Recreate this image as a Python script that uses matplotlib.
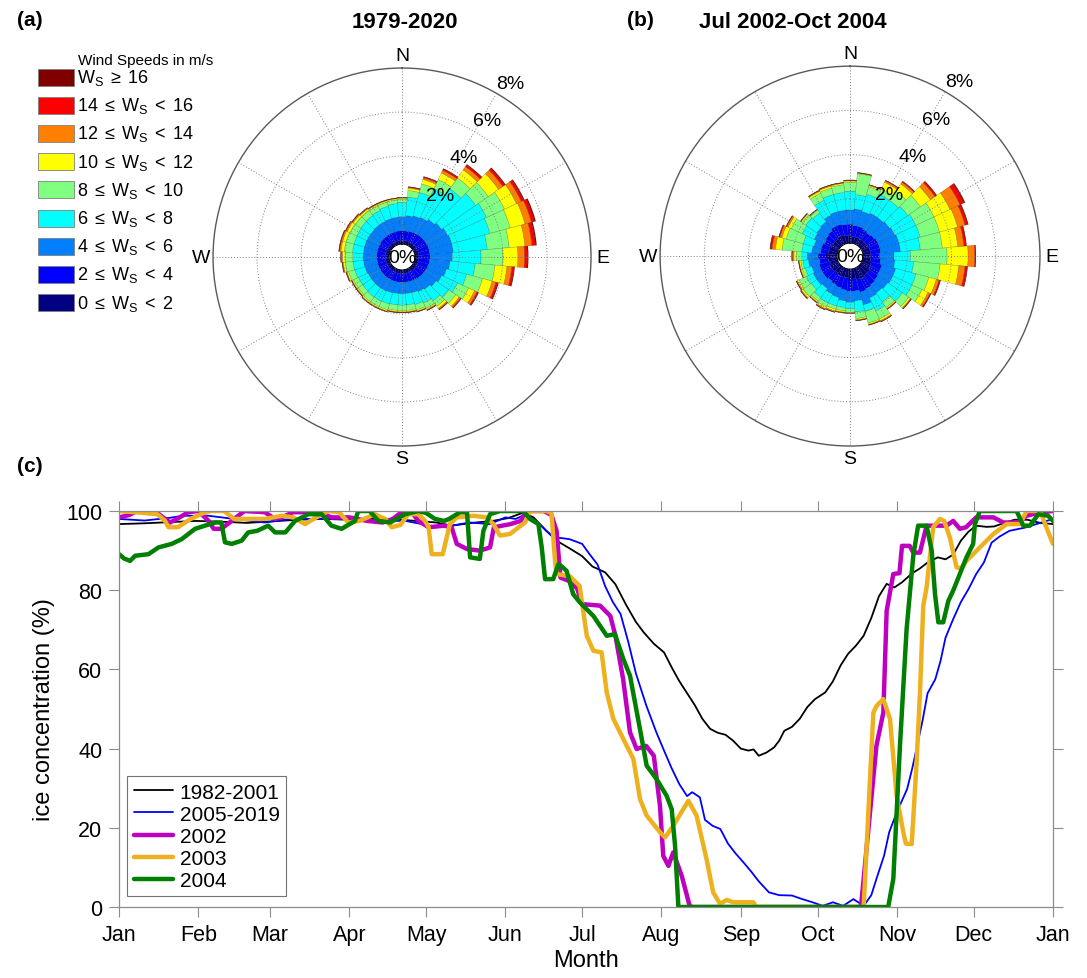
import matplotlib
matplotlib.use("Agg")
import matplotlib.pyplot as plt
import numpy as np
from matplotlib.patches import Rectangle

plt.rcParams["font.family"] = ["Liberation Sans", "DejaVu Sans"]
plt.rcParams["mathtext.fontset"] = "custom"
plt.rcParams["mathtext.rm"] = "Liberation Sans"
plt.rcParams["mathtext.it"] = "Liberation Sans:italic"

# ---------------- wind rose data (frequency in %, per 10 deg sector) ----------------
directions = np.arange(0, 360, 10)

speed_labels = [
    r"$\mathrm{W_S} \;\geq\; 16$",
    r"$14 \;\leq\; \mathrm{W_S} \;<\; 16$",
    r"$12 \;\leq\; \mathrm{W_S} \;<\; 14$",
    r"$10 \;\leq\; \mathrm{W_S} \;<\; 12$",
    r"$8 \;\leq\; \mathrm{W_S} \;<\; 10$",
    r"$6 \;\leq\; \mathrm{W_S} \;<\; 8$",
    r"$4 \;\leq\; \mathrm{W_S} \;<\; 6$",
    r"$2 \;\leq\; \mathrm{W_S} \;<\; 4$",
    r"$0 \;\leq\; \mathrm{W_S} \;<\; 2$",
]
# colours from slowest to fastest class
speed_colors = ["#000080", "#0000FF", "#0080FF", "#00FFFF", "#80FF80",
                "#FFFF00", "#FF8000", "#FF0000", "#800000"]

# 1979-2020
a_0_2 = [0.17, 0.17, 0.17, 0.18, 0.18, 0.18, 0.18, 0.18, 0.18, 0.18, 0.18, 0.18,
         0.18, 0.17, 0.17, 0.17, 0.17, 0.17, 0.17, 0.17, 0.17, 0.17, 0.17, 0.17,
         0.17, 0.17, 0.17, 0.17, 0.17, 0.17, 0.17, 0.17, 0.17, 0.17, 0.17, 0.17]
a_2_4 = [0.43, 0.43, 0.45, 0.45, 0.47, 0.48, 0.49, 0.50, 0.50, 0.50, 0.49, 0.47,
         0.45, 0.45, 0.43, 0.41, 0.40, 0.39, 0.39, 0.39, 0.39, 0.39, 0.39, 0.38,
         0.38, 0.38, 0.38, 0.38, 0.39, 0.39, 0.40, 0.41, 0.41, 0.42, 0.42, 0.43]
a_4_6 = [0.65, 0.70, 0.73, 0.77, 0.85, 0.94, 1.03, 1.07, 1.07, 1.02, 0.93, 0.85,
         0.77, 0.68, 0.60, 0.57, 0.53, 0.52, 0.52, 0.52, 0.54, 0.56, 0.56, 0.57,
         0.57, 0.60, 0.62, 0.63, 0.62, 0.62, 0.61, 0.60, 0.62, 0.61, 0.63, 0.63]
a_6_8 = [0.65, 0.85, 1.10, 1.45, 1.70, 1.90, 1.95, 1.80, 1.55, 1.30, 1.15, 0.95,
         0.80, 0.70, 0.65, 0.57, 0.55, 0.52, 0.52, 0.52, 0.52, 0.51, 0.51, 0.48,
         0.48, 0.48, 0.48, 0.47, 0.49, 0.49, 0.50, 0.52, 0.52, 0.55, 0.58, 0.62]
a_8_10 = [0.15, 0.30, 0.40, 0.45, 0.60, 0.70, 0.90, 0.95, 1.00, 1.00, 0.90, 0.75,
          0.55, 0.40, 0.30, 0.26, 0.25, 0.25, 0.25, 0.25, 0.28, 0.27, 0.27, 0.25,
          0.25, 0.30, 0.35, 0.35, 0.38, 0.38, 0.34, 0.30, 0.28, 0.23, 0.20, 0.17]
a_10_12 = [0.04, 0.10, 0.21, 0.33, 0.45, 0.57, 0.60, 0.70, 0.72, 0.68, 0.55, 0.45,
           0.30, 0.18, 0.12, 0.07, 0.06, 0.06, 0.06, 0.06, 0.06, 0.06, 0.06, 0.06,
           0.06, 0.07, 0.09, 0.12, 0.15, 0.15, 0.14, 0.12, 0.09, 0.07, 0.06, 0.05]
a_12_14 = [0.02, 0.04, 0.08, 0.13, 0.18, 0.23, 0.24, 0.30, 0.32, 0.30, 0.22, 0.18,
           0.12, 0.07, 0.05, 0.03, 0.025, 0.025, 0.025, 0.025, 0.025, 0.025, 0.025, 0.025,
           0.025, 0.03, 0.035, 0.05, 0.06, 0.06, 0.055, 0.05, 0.035, 0.03, 0.025, 0.02]
a_14_16 = [0.01, 0.02, 0.04, 0.07, 0.09, 0.11, 0.12, 0.15, 0.16, 0.13, 0.10, 0.09,
           0.06, 0.04, 0.02, 0.015, 0.01, 0.01, 0.01, 0.01, 0.01, 0.01, 0.01, 0.01,
           0.01, 0.015, 0.02, 0.025, 0.03, 0.03, 0.03, 0.025, 0.02, 0.015, 0.01, 0.01]
a_16 = [0.0, 0.01, 0.02, 0.02, 0.03, 0.04, 0.04, 0.05, 0.05, 0.04, 0.03, 0.03,
        0.02, 0.01, 0.01, 0.005, 0.005, 0.005, 0.005, 0.005, 0.005, 0.005, 0.005, 0.005,
        0.005, 0.005, 0.005, 0.005, 0.01, 0.01, 0.005, 0.005, 0.005, 0.005, 0.005, 0.0]

# Jul 2002 - Oct 2004
b_0_2 = [0.35, 0.30, 0.30, 0.30, 0.30, 0.30, 0.32, 0.35, 0.35, 0.33, 0.35, 0.40,
         0.45, 0.50, 0.50, 0.55, 0.50, 0.45, 0.45, 0.40, 0.40, 0.40, 0.35, 0.40,
         0.40, 0.35, 0.40, 0.50, 0.40, 0.40, 0.35, 0.35, 0.35, 0.40, 0.40, 0.35]
b_2_4 = [0.50, 0.50, 0.50, 0.45, 0.40, 0.45, 0.48, 0.45, 0.45, 0.42, 0.45, 0.50,
         0.45, 0.45, 0.50, 0.50, 0.60, 0.55, 0.55, 0.55, 0.50, 0.45, 0.45, 0.45,
         0.45, 0.50, 0.40, 0.35, 0.35, 0.35, 0.35, 0.40, 0.45, 0.50, 0.50, 0.50]
b_4_6 = [0.65, 0.75, 0.70, 0.80, 0.85, 0.85, 0.85, 0.90, 0.90, 0.65, 0.65, 0.65,
         0.65, 0.55, 0.45, 0.45, 0.60, 0.45, 0.50, 0.50, 0.45, 0.45, 0.40, 0.40,
         0.40, 0.35, 0.50, 0.50, 0.40, 0.35, 0.50, 0.50, 0.50, 0.55, 0.60, 0.65]
b_6_8 = [0.85, 0.65, 0.80, 0.95, 0.95, 1.00, 1.05, 1.00, 0.90, 0.75, 0.85, 0.95,
         0.95, 0.80, 0.50, 0.65, 0.30, 0.50, 0.30, 0.30, 0.40, 0.45, 0.50, 0.30,
         0.35, 0.30, 0.25, 0.25, 0.45, 0.50, 0.60, 0.60, 0.50, 0.75, 0.80, 0.80]
b_8_10 = [0.40, 0.95, 0.35, 0.25, 0.50, 0.70, 0.90, 0.90, 1.00, 1.65, 1.20, 0.60,
          0.50, 0.35, 0.30, 0.40, 0.55, 0.30, 0.15, 0.15, 0.15, 0.20, 0.20, 0.45,
          0.35, 0.15, 0.10, 0.25, 0.90, 0.80, 0.55, 0.20, 0.15, 0.35, 0.30, 0.35]
b_10_12 = [0.06, 0.03, 0.06, 0.35, 0.40, 0.55, 0.80, 0.85, 0.70, 0.95, 0.85, 0.35,
           0.30, 0.09, 0.06, 0.09, 0.06, 0.06, 0.03, 0.06, 0.09, 0.09, 0.06, 0.09,
           0.09, 0.06, 0.06, 0.10, 0.30, 0.20, 0.15, 0.06, 0.03, 0.09, 0.09, 0.06]
b_12_14 = [0.03, 0.01, 0.03, 0.07, 0.10, 0.25, 0.50, 0.35, 0.28, 0.30, 0.28, 0.13,
           0.10, 0.04, 0.03, 0.04, 0.03, 0.03, 0.01, 0.03, 0.04, 0.04, 0.03, 0.04,
           0.04, 0.03, 0.03, 0.06, 0.15, 0.10, 0.07, 0.03, 0.01, 0.04, 0.04, 0.03]
b_14_16 = [0.01, 0.01, 0.01, 0.02, 0.04, 0.08, 0.20, 0.12, 0.10, 0.05, 0.10, 0.05,
           0.04, 0.015, 0.01, 0.015, 0.01, 0.01, 0.01, 0.01, 0.015, 0.015, 0.01, 0.015,
           0.015, 0.01, 0.01, 0.03, 0.08, 0.04, 0.025, 0.01, 0.01, 0.015, 0.015, 0.01]
b_16 = [0.0, 0.0, 0.0, 0.01, 0.01, 0.02, 0.05, 0.03, 0.02, 0.0, 0.02, 0.02,
        0.01, 0.005, 0.0, 0.005, 0.0, 0.0, 0.0, 0.0, 0.005, 0.005, 0.0, 0.005,
        0.005, 0.0, 0.0, 0.01, 0.02, 0.01, 0.005, 0.0, 0.0, 0.005, 0.005, 0.0]

rose_a = [a_0_2, a_2_4, a_4_6, a_6_8, a_8_10, a_10_12, a_12_14, a_14_16, a_16]
rose_b = [b_0_2, b_2_4, b_4_6, b_6_8, b_8_10, b_10_12, b_12_14, b_14_16, b_16]

# ---------------- ice concentration (day of year, %) ----------------
month_ticks = [0, 31, 59, 90, 120, 151, 181, 212, 243, 273, 304, 334, 365]
month_labels = ["Jan", "Feb", "Mar", "Apr", "May", "Jun", "Jul", "Aug",
                "Sep", "Oct", "Nov", "Dec", "Jan"]

ice_1982_2001 = [
    (0, 96.7), (10, 96.9), (20, 97.2), (30, 97.5), (40, 97.3), (50, 97.0), (60, 97.4),
    (70, 97.8), (80, 98.0), (90, 97.8), (100, 98.0), (110, 97.8), (118, 97.4), (124, 97.1),
    (130, 96.3), (138, 97.0), (146, 97.5), (152, 98.2), (158, 99.6), (162, 98.4), (167, 95.0),
    (171, 92.5), (176, 90.6), (181, 88.6), (185, 86.0), (190, 84.5), (194, 81.5), (198, 76.5),
    (202, 72.0), (205, 69.4), (209, 66.5), (213, 64.3), (216, 60.5), (219, 57.0), (222, 54.0),
    (225, 51.0), (228, 47.5), (231, 45.0), (234, 44.0), (237, 43.5), (240, 42.0), (243, 40.0),
    (246, 39.5), (248, 39.8), (250, 38.2), (253, 39.0), (256, 40.3), (258, 42.0), (260, 44.5),
    (263, 45.5), (266, 47.5), (269, 50.5), (272, 52.5), (276, 54.2), (279, 57.0), (282, 61.0),
    (285, 64.0), (288, 66.0), (291, 68.5), (294, 73.0), (297, 78.5), (300, 81.6), (303, 80.7),
    (306, 82.0), (310, 84.3), (313, 85.5), (316, 87.0), (320, 88.3), (323, 87.8), (326, 89.0),
    (329, 92.5), (332, 94.8), (335, 96.3), (339, 96.0), (342, 96.1), (346, 97.0), (350, 97.8),
    (355, 97.8), (360, 97.0), (365, 96.7),
]
ice_2005_2019 = [
    (0, 98.0), (10, 97.6), (20, 98.3), (25, 98.8), (35, 98.8), (45, 98.0), (57, 97.1),
    (67, 98.0), (80, 98.0), (92, 98.0), (100, 97.5), (112, 97.5), (120, 96.5), (124, 95.9),
    (130, 96.3), (137, 97.1), (145, 96.7), (151, 98.4), (155, 98.0), (159, 99.2), (163, 97.5),
    (167, 95.0), (170, 93.4), (176, 92.9), (181, 91.7), (184, 89.0), (187, 86.5), (190, 81.0),
    (193, 77.0), (196, 74.0), (199, 67.0), (202, 59.0), (206, 51.0), (210, 44.1), (213, 39.5),
    (216, 35.0), (219, 31.0), (222, 28.0), (224, 29.0), (227, 27.7), (229, 22.0), (232, 20.5),
    (235, 19.7), (238, 16.0), (241, 13.5), (244, 11.3), (247, 9.0), (250, 6.5), (254, 3.7),
    (258, 3.0), (263, 2.9), (267, 2.0), (271, 1.2), (275, 0.3), (279, 1.2), (283, 0.3),
    (287, 2.0), (291, 0.3), (294, 3.0), (296, 7.1), (299, 13.0), (301, 18.9), (304, 24.0),
    (308, 29.8), (310, 35.0), (312, 41.0), (314, 47.0), (316, 54.0), (319, 57.5), (321, 62.0),
    (323, 68.0), (326, 72.7), (329, 77.0), (332, 80.3), (335, 84.1), (338, 87.0), (341, 92.0),
    (344, 93.5), (348, 95.0), (354, 95.8), (360, 97.0), (365, 98.0),
]
ice_2002 = [
    (0, 98.4), (4, 99.0), (7, 100), (14, 100), (17, 98.5), (20, 97.1), (24, 98.5), (27, 99.7),
    (31, 100), (35, 97.5), (37, 95.5), (40, 95.5), (43, 97.0), (45, 98.0), (49, 100),
    (57, 99.7), (61, 98.0), (64, 98.5), (68, 99.7), (78, 99.7), (83, 98.4), (90, 98.4),
    (97, 97.5), (103, 97.1), (107, 98.0), (110, 99.5), (114, 100), (117, 97.5), (121, 95.9),
    (127, 96.3), (130, 95.9), (132, 91.7), (136, 90.4), (141, 90.0), (145, 90.8), (146.5, 95.9),
    (153, 96.7), (157, 97.5), (159, 100), (166, 100), (169, 99.0), (171, 95.0), (172.5, 83.2),
    (176, 82.3), (179, 80.5), (181, 76.5), (188, 76.1), (192, 73.5), (194, 68.5), (197, 57.6),
    (199.7, 44.1), (202.3, 39.9), (206, 40.7), (209, 38.2), (211.4, 25.6), (212.7, 12.9),
    (214.7, 10.4), (216.6, 13.8), (219.9, 7.9), (223, 0.3), (224, 0), (289, 0), (290, 0.3),
    (293.5, 23.9), (296, 40.7), (298.7, 49.1), (300, 74.8), (302.6, 84.1), (305, 84.3),
    (306, 91.2), (309, 91.2), (310.4, 89.5), (313, 89.5), (315.6, 96.3), (323.4, 96.3),
    (326, 97.5), (328.6, 95.5), (331, 95.9), (335, 98.4), (341.7, 98.4), (345.6, 97.1),
    (351, 97.1), (354.7, 98.8), (360, 99.7), (365, 100),
]
ice_2003 = [
    (0, 100), (6, 99.7), (15, 99.2), (18, 97.5), (19.3, 95.9), (23, 95.9), (28, 98.0),
    (33, 99.5), (36, 100), (41, 100), (45, 98.0), (57, 98.0), (63.6, 98.8), (68, 98.4),
    (72.7, 96.7), (76, 98.0), (81.8, 100), (86, 99.7), (89.6, 97.1), (94, 97.5), (100, 99.2),
    (104, 98.0), (106.6, 95.9), (110, 96.5), (113, 99.2), (117, 99.2), (119.6, 97.5),
    (121, 95.9), (122.2, 89.1), (126.5, 89.1), (129.3, 96.7), (132, 98.4), (138.5, 98.8),
    (143.7, 98.4), (146.3, 96.7), (148.9, 93.8), (152.8, 94.2), (155.4, 95.5), (158.7, 97.1),
    (160.6, 100), (167, 100), (169, 99.5), (170.4, 87.4), (171, 84.1), (176.2, 83.5),
    (180, 81.1), (182.8, 68.5), (185.4, 64.7), (188.6, 64.3), (190.6, 54.2), (193.2, 47.5),
    (197.1, 42.4), (201, 37.4), (203.6, 27.3), (206.2, 23.1), (211.4, 18.9), (213.4, 17.6),
    (216.6, 20.5), (220.5, 24.7), (222.5, 26.8), (225.7, 23.1), (229.6, 12.1), (232.2, 3.7),
    (234.9, 0.8), (237.5, 1.8), (240, 1.2), (247.9, 1.2), (249, 0), (291, 0), (292.2, 15.5),
    (294.8, 49.1), (296.1, 50.8), (298.7, 52.5), (301.3, 47.5), (303.9, 28.1), (306.5, 18.9),
    (307.5, 16.0), (309.8, 15.9), (311.7, 36.5), (313, 53.8), (314.3, 76.0), (315.6, 80.7),
    (318.2, 95.9), (320.8, 98.0), (322.5, 97.5), (324.7, 93.3), (327.3, 85.8), (329, 85.5),
    (331.2, 87.4), (336.4, 90.8), (341.7, 94.2), (346.9, 96.7), (352.1, 96.7), (354.7, 100),
    (360, 100), (362.4, 95.9), (365, 91.7),
]
ice_2004 = [
    (0, 89.1), (2, 88.0), (4.3, 87.4), (6.3, 88.7), (11.5, 89.1), (15.4, 90.8), (20.6, 91.7),
    (24.5, 92.9), (29.7, 95.5), (33.6, 96.3), (37.5, 97.1), (40, 97.1), (41.4, 92.1),
    (44, 91.7), (47.9, 92.5), (50.5, 94.6), (54, 95.0), (58.3, 96.3), (61, 94.6), (65, 94.6),
    (68.8, 97.5), (74, 99.2), (79.2, 99.2), (83, 96.3), (87, 95.5), (92.2, 97.5), (93.5, 100),
    (98, 100), (101.3, 97.5), (106, 97.1), (111.8, 99.2), (117, 100), (120, 99.5),
    (123.5, 98.0), (127, 97.5), (129, 98.0), (133.3, 99.7), (136, 99.7), (137.2, 88.3),
    (141, 87.9), (142.4, 95.0), (145, 99.2), (148.9, 100), (158, 100), (160.6, 98.0),
    (163.9, 96.7), (165.2, 90.8), (166.5, 82.8), (169.7, 82.8), (171.7, 86.6), (173, 86.0),
    (174.9, 84.9), (177.5, 79.0), (180, 77.0), (185.4, 73.5), (190.6, 68.5), (193.8, 68.9),
    (197.1, 62.6), (199.7, 58.4), (203.6, 44.9), (206.2, 35.7), (210.1, 32.3), (214, 28.1),
    (216, 24.7), (217.3, 15.5), (218.6, 0), (300.6, 0), (302.6, 7.1), (305.2, 40.7),
    (307.8, 70.2), (310.4, 88.7), (312.3, 96.3), (315.6, 96.3), (317.6, 90.0), (318.9, 79.0),
    (320.2, 71.9), (322.1, 71.9), (324.1, 77.3), (326, 79.9), (328.6, 84.1), (331.2, 88.3),
    (333.8, 91.7), (334.5, 96.7), (336.4, 100), (350.8, 100), (353.4, 96.3), (356, 96.3),
    (359.3, 99.2), (363.1, 98.8), (365, 97.5),
]

series = [
    ("1982-2001", ice_1982_2001, "black", 1.3),
    ("2005-2019", ice_2005_2019, "#0000FF", 1.3),
    ("2002", ice_2002, "#C000C0", 3.2),
    ("2003", ice_2003, "#EDB120", 3.2),
    ("2004", ice_2004, "#007F00", 3.2),
]


def draw_rose(ax, classes):
    theta = np.deg2rad(directions)
    bottom = np.zeros(len(directions))
    for values, color in zip(classes, speed_colors):
        values = np.asarray(values)
        ax.bar(theta, values, width=np.deg2rad(10), bottom=bottom, color=color,
               edgecolor=(0, 0, 0, 0.35), linewidth=0.3, zorder=1)
        bottom = bottom + values
    ax.set_theta_zero_location("N")
    ax.set_theta_direction(-1)
    ax.set_ylim(0, 8)
    ax.set_rorigin(-0.59)
    ax.set_axisbelow(False)
    ax.set_yticks([2, 4, 6])
    ax.set_yticklabels([])
    ax.set_xticks(np.deg2rad(np.arange(0, 360, 30)))
    ax.set_xticklabels([])
    ax.grid(True, linestyle=(0, (1, 2)), color="0.5", linewidth=0.7)
    ax.spines["polar"].set_color("0.35")
    ax.spines["polar"].set_linewidth(1.0)
    if "inner" in ax.spines:
        ax.spines["inner"].set_visible(False)
    for name, ang in [("N", 0), ("E", 90), ("S", 180), ("W", 270)]:
        ax.text(np.deg2rad(ang), 8.55, name, ha="center", va="center", fontsize=14)
    ax.text(0, -0.59, "0%", ha="center", va="center", fontsize=14)
    for pct in [2, 4, 6, 8]:
        ax.text(np.deg2rad(32), pct + 0.72, f"{pct}%", ha="center", va="center",
                fontsize=14)


fig = plt.figure(figsize=(10.87, 9.79), dpi=100)

ax_a = fig.add_axes([0.196, 0.5434, 0.3477, 0.3861], projection="polar")
draw_rose(ax_a, rose_a)
ax_b = fig.add_axes([0.6072, 0.5434, 0.3496, 0.388], projection="polar")
draw_rose(ax_b, rose_b)

# overlay in pixel coordinates for panel letters, titles and the speed legend
over = fig.add_axes([0, 0, 1, 1])
over.set_xlim(0, 1087)
over.set_ylim(979, 0)
over.axis("off")
over.text(17, 20, "(a)", fontsize=15, fontweight="bold", va="center")
over.text(627, 20, "(b)", fontsize=15, fontweight="bold", va="center")
over.text(17, 467, "(c)", fontsize=15, fontweight="bold", va="center")
over.text(405, 22, "1979-2020", fontsize=16, fontweight="bold", ha="center", va="center")
over.text(793, 22, "Jul 2002-Oct 2004", fontsize=16, fontweight="bold",
          ha="center", va="center")
over.text(78, 61, "Wind Speeds in m/s", fontsize=11, va="center")
for i, (label, color) in enumerate(zip(speed_labels, speed_colors[::-1])):
    yc = 78 + i * 28.2
    over.add_patch(Rectangle((38, yc - 8.5), 36, 17, facecolor=color,
                             edgecolor="0.5", linewidth=0.6))
    over.text(77, yc, label, fontsize=13, va="center")

# ice concentration panel
ax = fig.add_axes([0.1095, 0.0725, 0.8592, 0.4045])
for label, pts, color, lw in series:
    days, vals = zip(*pts)
    ax.plot(days, vals, color=color, linewidth=lw, label=label,
            solid_joinstyle="round", solid_capstyle="round")
ax.set_xlim(0, 365)
ax.set_ylim(0, 100)
ax.set_xticks(month_ticks)
ax.set_xticklabels(month_labels)
ax.set_yticks(range(0, 101, 20))
ax.tick_params(direction="out", length=7, width=0.8, color="0.55",
               labelsize=15.5, top=True, right=True, pad=5)
for sp in ax.spines.values():
    sp.set_color("0.55")
    sp.set_linewidth(0.9)
ax.set_xlabel("Month", fontsize=17, labelpad=3)
ax.set_ylabel("ice concentration (%)", fontsize=17, labelpad=8)
leg = ax.legend(loc="lower left", bbox_to_anchor=(0.009, 0.027), borderaxespad=0,
                fontsize=15, handlelength=1.9, handletextpad=0.3,
                labelspacing=0.15, borderpad=0.3, fancybox=False, framealpha=1)
leg.get_frame().set_edgecolor("0.45")
leg.get_frame().set_linewidth(0.8)

fig.savefig("out.png", dpi=100)
